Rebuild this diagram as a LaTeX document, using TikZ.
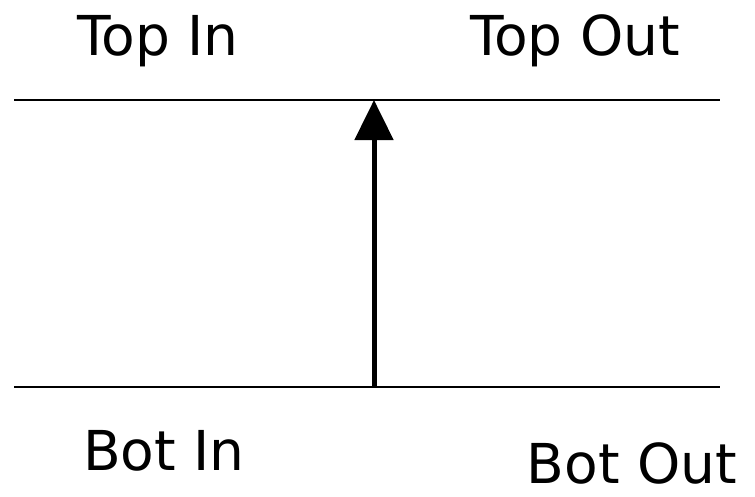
\documentclass[tikz,border=0pt]{standalone}
\usepackage{fontspec}
\setmainfont{DejaVu Sans}
\usetikzlibrary{arrows.meta}
\begin{document}
\begin{tikzpicture}[x=1pt,y=-1pt,
  lbl/.style={font=\fontsize{55}{66}\selectfont, inner sep=0pt},
  rail/.style={line width=1.3pt},
  flow/.style={line width=5pt,-{Triangle[length=40pt,width=38pt]}}]
\useasboundingbox (0,0) rectangle (755,496);
\coordinate (tl) at (14,100);
\coordinate (tr) at (720,100);
\coordinate (bl) at (14,387);
\coordinate (br) at (720,387);
\coordinate (as) at (374,387);
\coordinate (ae) at (374,100);
\draw[rail] (tl) -- (tr);
\draw[rail] (bl) -- (br);
\draw[flow] (as) -- (ae);
\node[lbl] (ti) at (158,41) {Top In};
\node[lbl] (to) at (575,41) {Top Out};
\node[lbl] (bi) at (164,451) {Bot In};
\node[lbl] (bo) at (632,463) {Bot Out};
\end{tikzpicture}
\end{document}
